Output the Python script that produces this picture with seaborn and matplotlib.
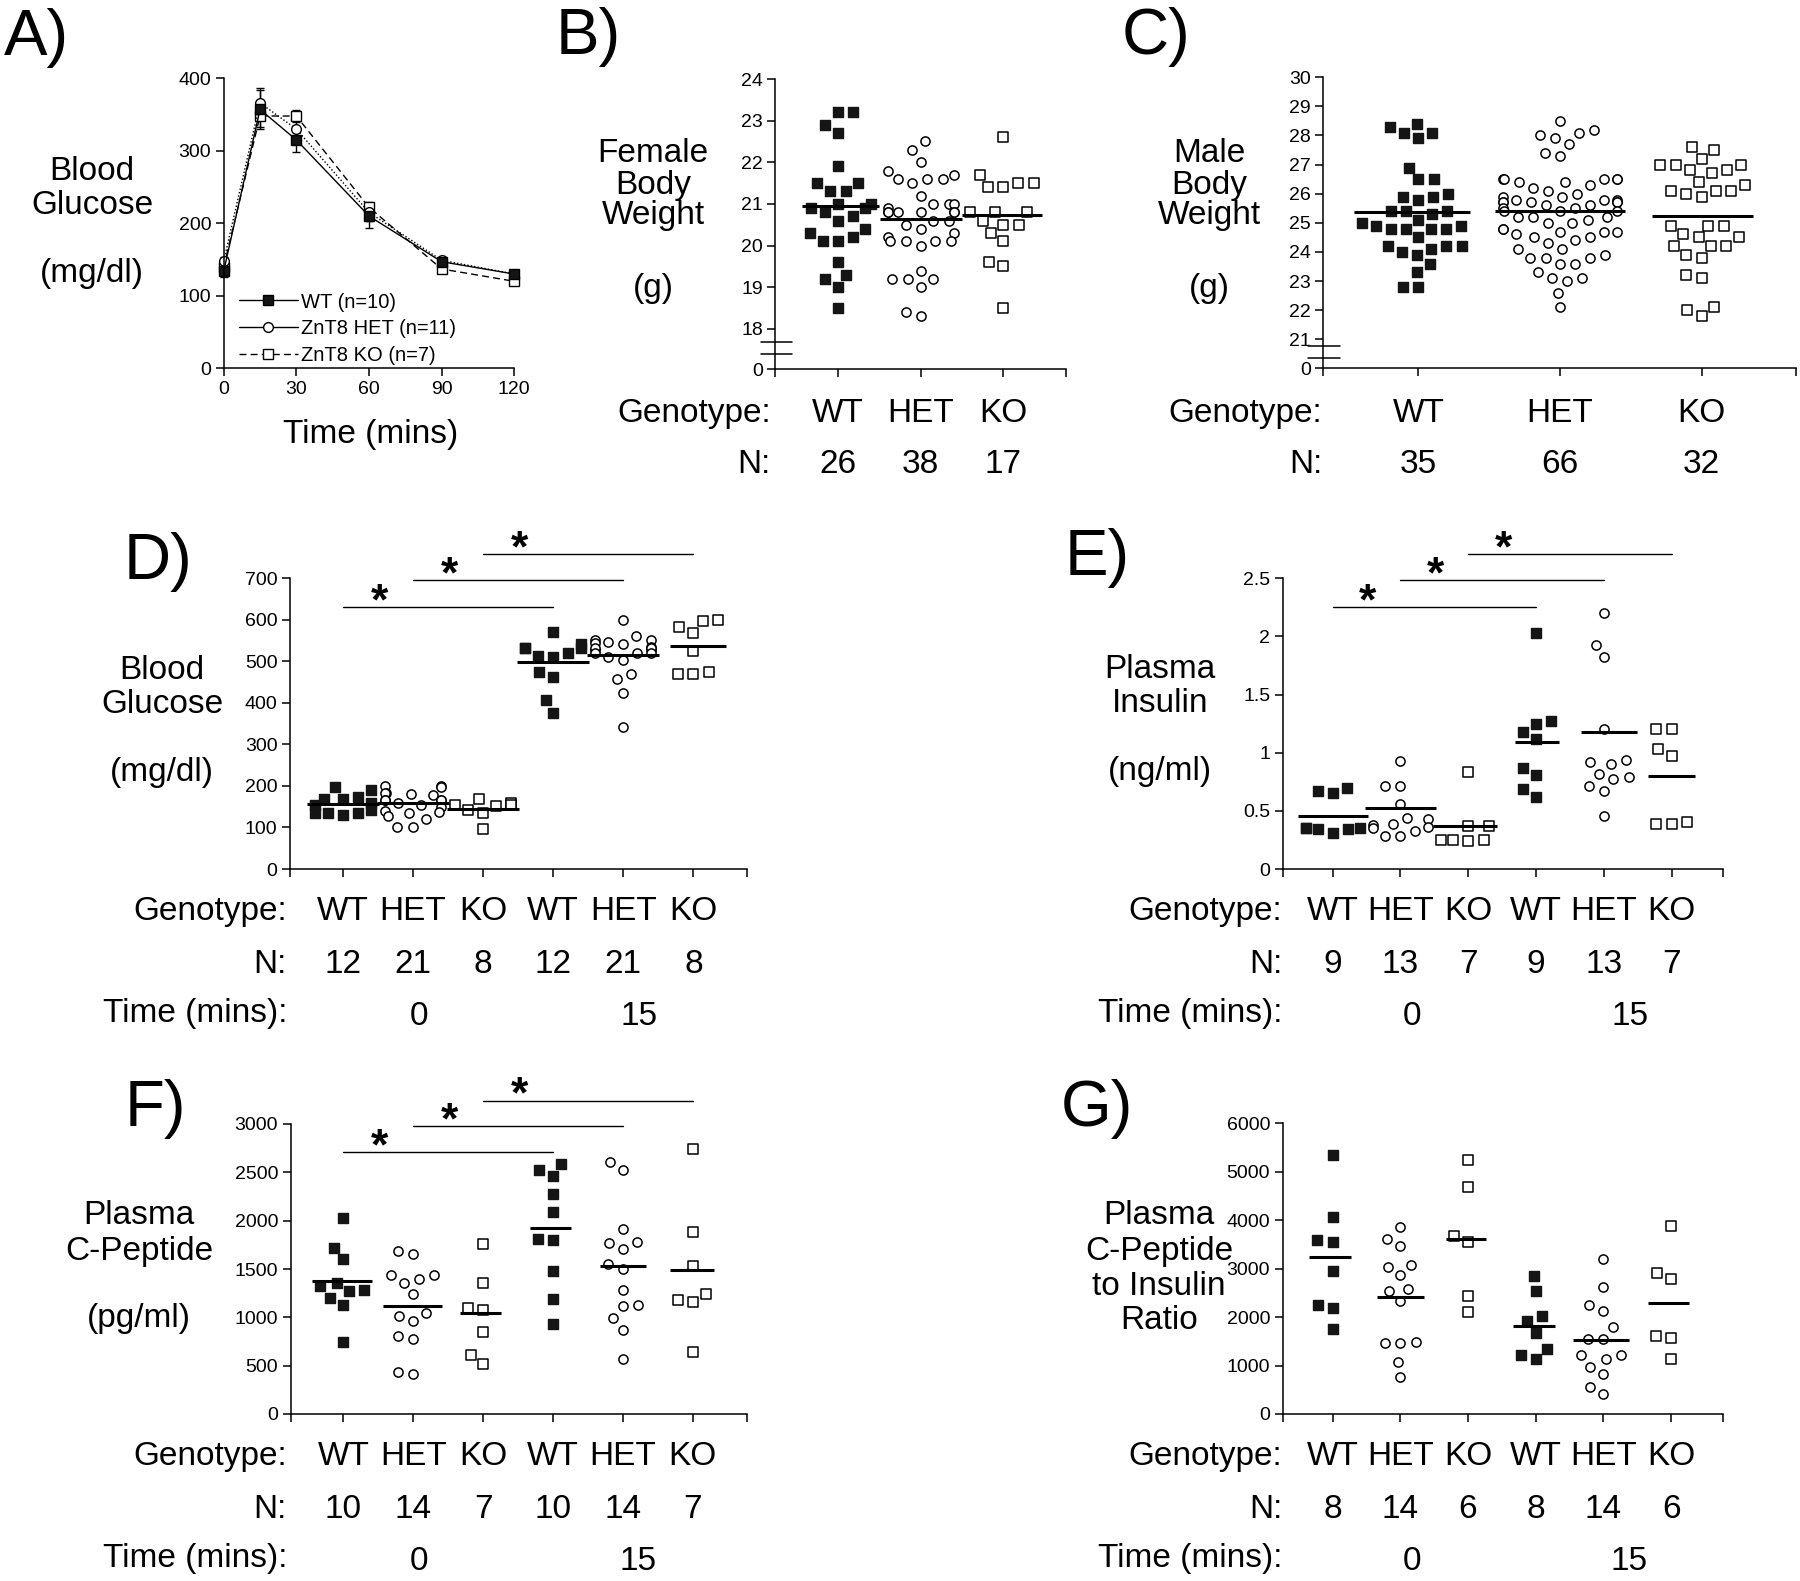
import numpy as np
import pandas as pd
import matplotlib
matplotlib.use("Agg")
import matplotlib.pyplot as plt
import matplotlib.transforms as mtrans
from matplotlib.lines import Line2D
import seaborn as sns

sns.set_style("ticks")
plt.rcParams["font.family"] = ["Liberation Sans", "DejaVu Sans"]
plt.rcParams.update({"axes.linewidth": 1.1, "axes.edgecolor": "black",
                     "xtick.color": "black", "ytick.color": "black",
                     "text.color": "black"})

# ---- (A) glucose tolerance test
gtt_time = [0, 15, 30, 60, 90, 120]
gtt_wt = [134, 357, 315, 210, 147, 130]
gtt_wt_err = [8, 27, 17, 17, 5, 5]
gtt_het = [148, 366, 330, 215, 149, 130]
gtt_het_err = [6, 20, 12, 12, 5, 5]
gtt_ko = [140, 348, 348, 222, 137, 120]
gtt_ko_err = [6, 15, 8, 8, 4, 4]

# ---- (B) female / (C) male body weight (g)
fw_wt = [23.2, 23.2, 22.9, 22.7, 21.9, 21.5, 21.5, 21.3, 21.3, 21.0, 21.0, 20.9, 20.9,
         20.8, 20.7, 20.6, 20.4, 20.3, 20.2, 20.1, 20.1, 19.6, 19.3, 19.2, 19.0, 18.5]
fw_het = [22.5, 22.3, 22.0, 21.8, 21.7, 21.6, 21.6, 21.6, 21.5, 21.2, 21.0, 21.0, 21.0,
          20.9, 20.8, 20.8, 20.8, 20.8, 20.8, 20.8, 20.6, 20.6, 20.5, 20.4, 20.3, 20.2,
          20.1, 20.1, 20.1, 20.1, 20.0, 19.4, 19.2, 19.2, 19.2, 19.0, 18.4, 18.3]
fw_ko = [22.6, 21.7, 21.5, 21.5, 21.4, 21.4, 20.8, 20.8, 20.8, 20.6, 20.5, 20.5, 20.3,
         20.1, 19.6, 19.5, 18.5]
fw_means = [20.96, 20.65, 20.74]

mw_wt = [28.3, 28.1, 28.4, 28.1, 27.9, 26.9, 26.5, 26.5, 25.8, 26.0, 25.9, 25.9, 25.3,
         25.4, 25.4, 25.4, 25.1, 24.8, 24.9, 24.8, 24.9, 25.0, 24.8, 24.8, 24.5, 24.2,
         24.1, 24.2, 24.2, 24.0, 23.9, 23.6, 23.3, 22.8, 22.8]
mw_het = [28.5, 28.1, 28.0, 27.9, 28.2, 27.7, 27.4, 27.3, 26.4, 26.5, 26.5, 26.5, 26.5,
          26.5, 26.3, 26.4, 26.2, 26.1, 26.0, 25.9, 25.8, 25.8, 25.9, 25.8, 25.7, 25.7,
          25.6, 25.7, 25.7, 25.7, 25.6, 25.4, 25.5, 25.5, 25.4, 25.4, 25.2, 25.2, 25.1,
          25.2, 25.0, 25.0, 24.7, 24.8, 24.7, 24.8, 24.6, 24.7, 24.5, 24.5, 24.4, 24.3,
          24.1, 24.1, 23.8, 23.8, 23.9, 23.8, 23.6, 23.6, 23.3, 23.0, 23.1, 23.1, 22.6,
          22.1]
mw_ko = [27.6, 27.5, 27.2, 27.0, 27.0, 27.0, 26.8, 26.8, 26.7, 26.4, 26.3, 26.1, 26.1,
         26.1, 26.0, 25.9, 24.9, 24.9, 24.9, 24.5, 24.5, 24.6, 24.2, 24.2, 24.2, 23.9,
         23.8, 23.2, 23.1, 21.8, 22.1, 22.0]
mw_means = [25.36, 25.42, 25.24]

# ---- (D)-(G): groups WT, HET, KO at 0 min then WT, HET, KO at 15 min
glucose = [
    [190, 198, 168, 173, 168, 154, 158, 134, 142, 134, 134, 130],
    [200, 200, 197, 182, 182, 180, 178, 166, 166, 165, 165, 160, 154, 150, 138, 140,
     134, 128, 120, 100, 100],
    [158, 168, 154, 152, 154, 142, 134, 96],
    [571, 541, 533, 533, 533, 521, 514, 511, 475, 463, 407, 376],
    [600, 561, 547, 551, 551, 543, 541, 527, 534, 527, 533, 531, 521, 521, 521, 511,
     503, 470, 457, 425, 343],
    [596, 600, 582, 568, 525, 469, 475, 469],
]
glucose_means = [156, 158, 144, 498, 515, 537]

insulin = [
    [0.67, 0.70, 0.65, 0.31, 0.35, 0.34, 0.35, 0.34, 0.35],
    [0.93, 0.71, 0.71, 0.56, 0.44, 0.43, 0.39, 0.36, 0.38, 0.35, 0.33, 0.28, 0.28],
    [0.83, 0.37, 0.37, 0.25, 0.25, 0.25, 0.24],
    [2.03, 1.18, 1.25, 1.27, 1.12, 0.87, 0.81, 0.69, 0.62],
    [2.20, 1.93, 1.82, 1.20, 0.94, 0.90, 0.92, 0.79, 0.82, 0.77, 0.71, 0.67, 0.46],
    [1.20, 1.20, 1.03, 0.97, 0.39, 0.40, 0.39],
]
insulin_means = [0.459, 0.522, 0.37, 1.095, 1.181, 0.803]

cpeptide = [
    [2030, 1720, 1600, 1360, 1320, 1280, 1270, 1200, 1130, 750],
    [1660, 1690, 1440, 1400, 1440, 1360, 1240, 1050, 1010, 960, 780, 810, 410, 430],
    [1760, 1360, 1080, 1100, 850, 610, 520],
    [2590, 2520, 2460, 2280, 2090, 1800, 1810, 1480, 1190, 930],
    [2610, 2520, 1910, 1780, 1710, 1770, 1500, 1550, 1280, 1120, 1130, 990, 870, 570],
    [2740, 1880, 1530, 1240, 1160, 1180, 640],
]
cpeptide_means = [1376, 1121, 1048, 1928, 1531, 1490]

ratio = [
    [5350, 4060, 3590, 3560, 2960, 2240, 2180, 1760],
    [3850, 3610, 3470, 3080, 3040, 2860, 2590, 2540, 2330, 1480, 1460, 1460, 1070, 770],
    [5240, 4690, 3670, 3560, 2440, 2110],
    [2840, 2540, 1920, 2020, 1670, 1340, 1220, 1130],
    [3200, 2630, 2130, 2240, 1790, 1550, 1550, 1220, 1130, 1220, 980, 830, 560, 410],
    [3890, 2780, 2900, 1610, 1560, 1130],
]
ratio_means = [3248, 2422, 3612, 1823, 1528, 2298]

GENO3 = ["WT", "HET", "KO"]
GENO6 = GENO3 * 2

W, H = 1800, 1581
PT = 100 / 72
SWARM_SIZE = 9.5   # spacing used to lay out the swarm
MARKER = 6.6       # drawn marker size (points)
fig = plt.figure(figsize=(W / 100, H / 100), dpi=100)
pending = []

STYLE = {
    "WT": dict(marker="s", color="#151515", edgecolor="#151515", linewidth=1.0),
    "HET": dict(marker="o", color="white", edgecolor="black", linewidth=1.1),
    "KO": dict(marker="s", color="white", edgecolor="black", linewidth=1.1),
}


def fy(y, size, lift=0.358):
    """reference pixel (visual centre) -> figure fraction of the baseline"""
    return 1 - (y + lift * size * PT) / H


def put(x, y, s, size=24, ha="center", lift=0.358, **kw):
    fig.text(x / W, fy(y, size, lift), s, fontsize=size, ha=ha, va="baseline", **kw)


def stack(x, ys, lines, size=24):
    for y, s in zip(ys, lines):
        put(x, y, s, size, lift=0.26 if s.startswith("(") else 0.358)


def add_axes(l, t, r, b):
    return fig.add_axes([l / W, 1 - b / H, (r - l) / W, (b - t) / H])


def style_ticks(ax):
    ax.tick_params(length=5.5, width=1.1, pad=3.5, labelsize=14, direction="out")


def dot_panel(ax, groups, genos, means, xlim, ylim, yticks, ylabels=None):
    order = [f"{g}_{i}" for i, g in enumerate(genos)]
    df = pd.DataFrame([(order[i], genos[i], v) for i, vals in enumerate(groups) for v in vals],
                      columns=["group", "genotype", "value"])
    for g in ["KO", "HET", "WT"]:
        sns.swarmplot(data=df[df.genotype == g], x="group", y="value", order=order,
                      size=SWARM_SIZE, warn_thresh=1, ax=ax, **STYLE[g])
    ax.set(xlim=xlim, ylim=ylim, xlabel="", ylabel="")
    ax.set_xticks([xlim[0], *range(len(order)), xlim[1]], [""] * (len(order) + 2))
    ax.set_yticks(yticks, ylabels if ylabels else [f"{t:g}" for t in yticks])
    sns.despine(ax=ax)
    style_ticks(ax)
    pending.append((ax, means))


def rows(ax, right, ys, genos, groups, times=None, size=24):
    tr = mtrans.blended_transform_factory(ax.transData, fig.transFigure)
    put(right, ys[0], "Genotype:", size, ha="right")
    put(right, ys[1], "N:", size, ha="right")
    for i, g in enumerate(genos):
        ax.text(i, fy(ys[0], size), g, transform=tr, fontsize=size, ha="center", va="baseline")
        ax.text(i, fy(ys[1], size), str(len(groups[i])), transform=tr, fontsize=size,
                ha="center", va="baseline")
    if times:
        put(right, ys[2], "Time (mins):", size, ha="right", lift=0.26)
        for x, t in times:
            ax.text(x, fy(ys[2], size), t, transform=tr, fontsize=size, ha="center",
                    va="baseline")


def axis_break(ax, ys, x0, x1):
    tr = mtrans.blended_transform_factory(ax.transAxes, ax.transData)
    for y in ys:
        ax.plot([x0, x1], [y, y], color="black", lw=1.1, transform=tr, clip_on=False)


def sig_bars(ax, levels=(0.902, 0.993, 1.083)):
    tr = mtrans.blended_transform_factory(ax.transData, ax.transAxes)
    for i, lev in enumerate(levels):
        ax.plot([i, i + 3], [lev, lev], color="black", lw=1.0, transform=tr, clip_on=False)
        ax.annotate("*", xy=(i + 0.52, lev), xycoords=tr, xytext=(0, -5.2),
                    textcoords="offset points", ha="center", va="baseline",
                    fontsize=32, fontweight="bold")


# ---------------- panel A
ax = add_axes(223.7, 78.3, 514.3, 368.3)
series = [(gtt_ko, gtt_ko_err, "s", "white", (5, 3)),
          (gtt_het, gtt_het_err, "o", "white", (1, 1.5)),
          (gtt_wt, gtt_wt_err, "s", "#151515", None)]
for vals, err, m, fc, dash in series:
    eb = ax.errorbar(gtt_time, vals, yerr=err, color="black", lw=1.0, marker=m, ms=7,
                     mfc=fc, mec="black", mew=1.0, capsize=3, elinewidth=1.0, clip_on=False)
    if dash:
        eb[0].set_dashes(dash)
ax.set(xlim=(0, 120), ylim=(0, 400), xticks=[0, 30, 60, 90, 120],
       yticks=[0, 100, 200, 300, 400])
sns.despine(ax=ax)
style_ticks(ax)
handles = [
    Line2D([], [], color="black", lw=1.0, marker="s", ms=7, mfc="#151515", mec="black"),
    Line2D([], [], color="black", lw=1.0, marker="o", ms=7, mfc="white", mec="black"),
    Line2D([], [], color="black", lw=1.0, ls=(0, (5, 3)), marker="s", ms=7, mfc="white",
           mec="black"),
]
ax.legend(handles, ["WT (n=10)", "ZnT8 HET (n=11)", "ZnT8 KO (n=7)"], loc="lower left",
          bbox_to_anchor=(0.053, 0.012), frameon=False, fontsize=14.5, handlelength=2.9,
          handletextpad=0.15, labelspacing=0.38, borderpad=0, borderaxespad=0)
stack(92, [168, 202, 273], ["Blood", "Glucose", "(mg/dl)"])
put(371, 434, "Time (mins)", lift=0.26)

# ---------------- panel B
ax = add_axes(775.3, 79, 1066, 369.3)
dot_panel(ax, [fw_wt, fw_het, fw_ko], GENO3, fw_means, (-0.755, 2.755), (17.03, 24),
          [17.03, 18, 19, 20, 21, 22, 23, 24], ["0", "18", "19", "20", "21", "22", "23", "24"])
axis_break(ax, [17.69, 17.39], -0.049, 0.057)
stack(653, [150, 182, 212, 288], ["Female", "Body", "Weight", "(g)"])
rows(ax, 771, [410, 461.5], GENO3, [fw_wt, fw_het, fw_ko])

# ---------------- panel C
ax = add_axes(1323.3, 77.3, 1796, 368.3)
dot_panel(ax, [mw_wt, mw_het, mw_ko], GENO3, mw_means, (-0.672, 2.667), (20, 30),
          list(range(20, 31)), ["0"] + [str(v) for v in range(21, 31)])
axis_break(ax, [20.77, 20.35], -0.032, 0.035)
stack(1209, [150, 182, 212, 288], ["Male", "Body", "Weight", "(g)"])
rows(ax, 1322, [410, 461.5], GENO3, [mw_wt, mw_het, mw_ko])

TIMES_L = [(1.08, "0"), (4.22, "15")]
TIMES_R = [(1.17, "0"), (4.38, "15")]

# ---------------- panel D
ax = add_axes(290, 578.3, 747.3, 869)
dot_panel(ax, glucose, GENO6, glucose_means, (-0.753, 5.77), (0, 700), range(0, 701, 100))
sig_bars(ax)
stack(162, [667, 701, 772], ["Blood", "Glucose", "(mg/dl)"])
rows(ax, 287, [908, 961, 1013], GENO6, glucose, TIMES_L)

# ---------------- panel E
ax = add_axes(1282.7, 578.3, 1723.3, 869)
dot_panel(ax, insulin, GENO6, insulin_means, (-0.737, 5.761), (0, 2.5),
          [0, 0.5, 1, 1.5, 2, 2.5])
sig_bars(ax)
stack(1160, [666, 700, 771], ["Plasma", "Insulin", "(ng/ml)"])
rows(ax, 1282, [908, 961, 1013], GENO6, insulin, TIMES_R)

# ---------------- panel F
ax = add_axes(290.7, 1124, 746.7, 1414)
dot_panel(ax, cpeptide, GENO6, cpeptide_means, (-0.753, 5.77), (0, 3000),
          range(0, 3001, 500))
sig_bars(ax, (0.902, 0.993, 1.081))
stack(139, [1212, 1248, 1318], ["Plasma", "C-Peptide", "(pg/ml)"])
rows(ax, 287, [1453, 1506, 1558], GENO6, cpeptide, TIMES_L)

# ---------------- panel G
ax = add_axes(1282.7, 1123.3, 1722.7, 1414)
dot_panel(ax, ratio, GENO6, ratio_means, (-0.737, 5.761), (0, 6000), range(0, 6001, 1000))
stack(1159, [1212, 1248, 1283, 1317], ["Plasma", "C-Peptide", "to Insulin", "Ratio"])
rows(ax, 1282, [1453, 1506, 1558], GENO6, ratio, TIMES_R)

# panel letters
for x, y, s in [(36, 31.5, "A)"), (588, 31, "B)"), (1156, 31, "C)"), (158, 556, "D)"),
                (1097, 552, "E)"), (155, 1103, "F)"), (1097, 1103, "G)")]:
    put(x, y, s, 47)

# lay the swarms out once, then freeze them and draw the markers a bit smaller
# than the spacing so neighbouring points keep a small gap
fig.canvas.draw()
for ax, means in pending:
    to_px = ax.transData.transform
    to_data = ax.transData.inverted().transform
    for coll in list(ax.collections):
        xy = np.asarray(coll.get_offsets())
        if len(xy) == 0:
            continue
        if "draw" in vars(coll):
            del coll.draw
        coll.set_sizes([MARKER ** 2])
        i = int(round(float(np.median(xy[:, 0]))))
        px = to_px(xy)[:, 0]
        cx = to_px((i, 0))[0]
        lo = min(px.min() - 8, cx - 18)
        hi = max(px.max() + 8, cx + 18)
        ax.hlines(means[i], to_data((lo, 0))[0], to_data((hi, 0))[0], color="black",
                  lw=2.2, zorder=5)

fig.savefig("out.png", dpi=100)
